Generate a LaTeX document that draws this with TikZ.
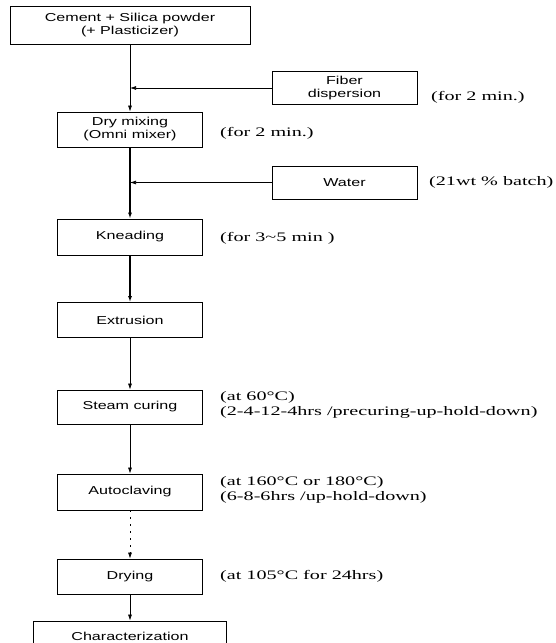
\documentclass[tikz,border=0pt]{standalone}
\usepackage{fontspec}
\setmainfont{Liberation Serif}
\newfontfamily\boxfont[FakeStretch=1.4]{Liberation Sans}
\newfontfamily\notefont[FakeStretch=1.55]{Liberation Serif}
\usetikzlibrary{arrows.meta}
\tikzset{
  fc/box/.style={
    draw=black,
    line width=0.8pt,
    fill=white,
    align=center,
    minimum width=145pt,
    minimum height=35pt,
    inner sep=2pt,
    font=\boxfont\fontsize{11.5}{13}\selectfont
  },
  fc/note/.style={
    anchor=west,
    align=left,
    inner sep=0pt,
    font=\notefont\fontsize{13}{15}\selectfont
  },
  fc/arrow/.style={-{Latex[length=6pt,width=4pt]}, line width=0.7pt, draw=black},
  fc/thickarrow/.style={fc/arrow, line width=1.2pt},
  fc/dotarrow/.style={fc/arrow, dash pattern=on 2pt off 5pt}
}

\begin{document}
\begin{tikzpicture}[x=1pt,y=-1pt]
  \clip (0,0) rectangle (555,643);
  % main process column
  \node[fc/box,minimum width=240pt,minimum height=38pt] (cement) at (130,25) {Cement + Silica powder\\(+ Plasticizer)};
  \node[fc/box] (dry) at (130,129.5) {Dry mixing\\(Omni mixer)};
  \node[fc/box,minimum height=36pt] (knead) at (130,237) {Kneading};
  \node[fc/box] (extr) at (130,320) {Extrusion};
  \node[fc/box,minimum height=34pt] (steam) at (130,407) {Steam curing};
  \node[fc/box,minimum height=36pt] (auto) at (130,492) {Autoclaving};
  \node[fc/box] (drying) at (130,576.5) {Drying};
  \node[fc/box,minimum width=193pt,minimum height=30pt] (char) at (130,636) {Characterization};
  % side inputs
  \node[fc/box,minimum height=33pt] (fiber) at (344.5,88) {Fiber\\dispersion};
  \node[fc/box,minimum height=33pt] (water) at (344.5,182.5) {Water};
  \coordinate (fiberjoin) at (fiber.west -| cement.south);
  \coordinate (waterjoin) at (water.west -| cement.south);
  % conditions
  \node[fc/note] (fibernote) at (431,97) {(for 2 min.)};
  \node[fc/note] (drynote) at (220,133) {(for 2 min.)};
  \node[fc/note] (waternote) at (429,182) {(21wt \% batch)};
  \node[fc/note] (kneadnote) at (220,238) {(for 3\textasciitilde5 min )};
  \node[fc/note] (steamnote) at (220,405) {(at 60°C)\\(2-4-12-4hrs /precuring-up-hold-down)};
  \node[fc/note] (autonote) at (220,490) {(at 160°C or 180°C)\\(6-8-6hrs /up-hold-down)};
  \node[fc/note] (dryingnote) at (220,576) {(at 105°C for 24hrs)};
  % connectors
  \draw[fc/arrow] (cement) -- (dry);
  \draw[fc/arrow] (fiber) -- (fiberjoin);
  \draw[fc/thickarrow] (dry) -- (knead);
  \draw[fc/arrow] (water) -- (waterjoin);
  \draw[fc/thickarrow] (knead) -- (extr);
  \draw[fc/arrow] (extr) -- (steam);
  \draw[fc/arrow] (steam) -- (auto);
  \draw[fc/dotarrow] (auto) -- (drying);
  \draw[fc/arrow] (drying) -- (char);
\end{tikzpicture}
\end{document}
